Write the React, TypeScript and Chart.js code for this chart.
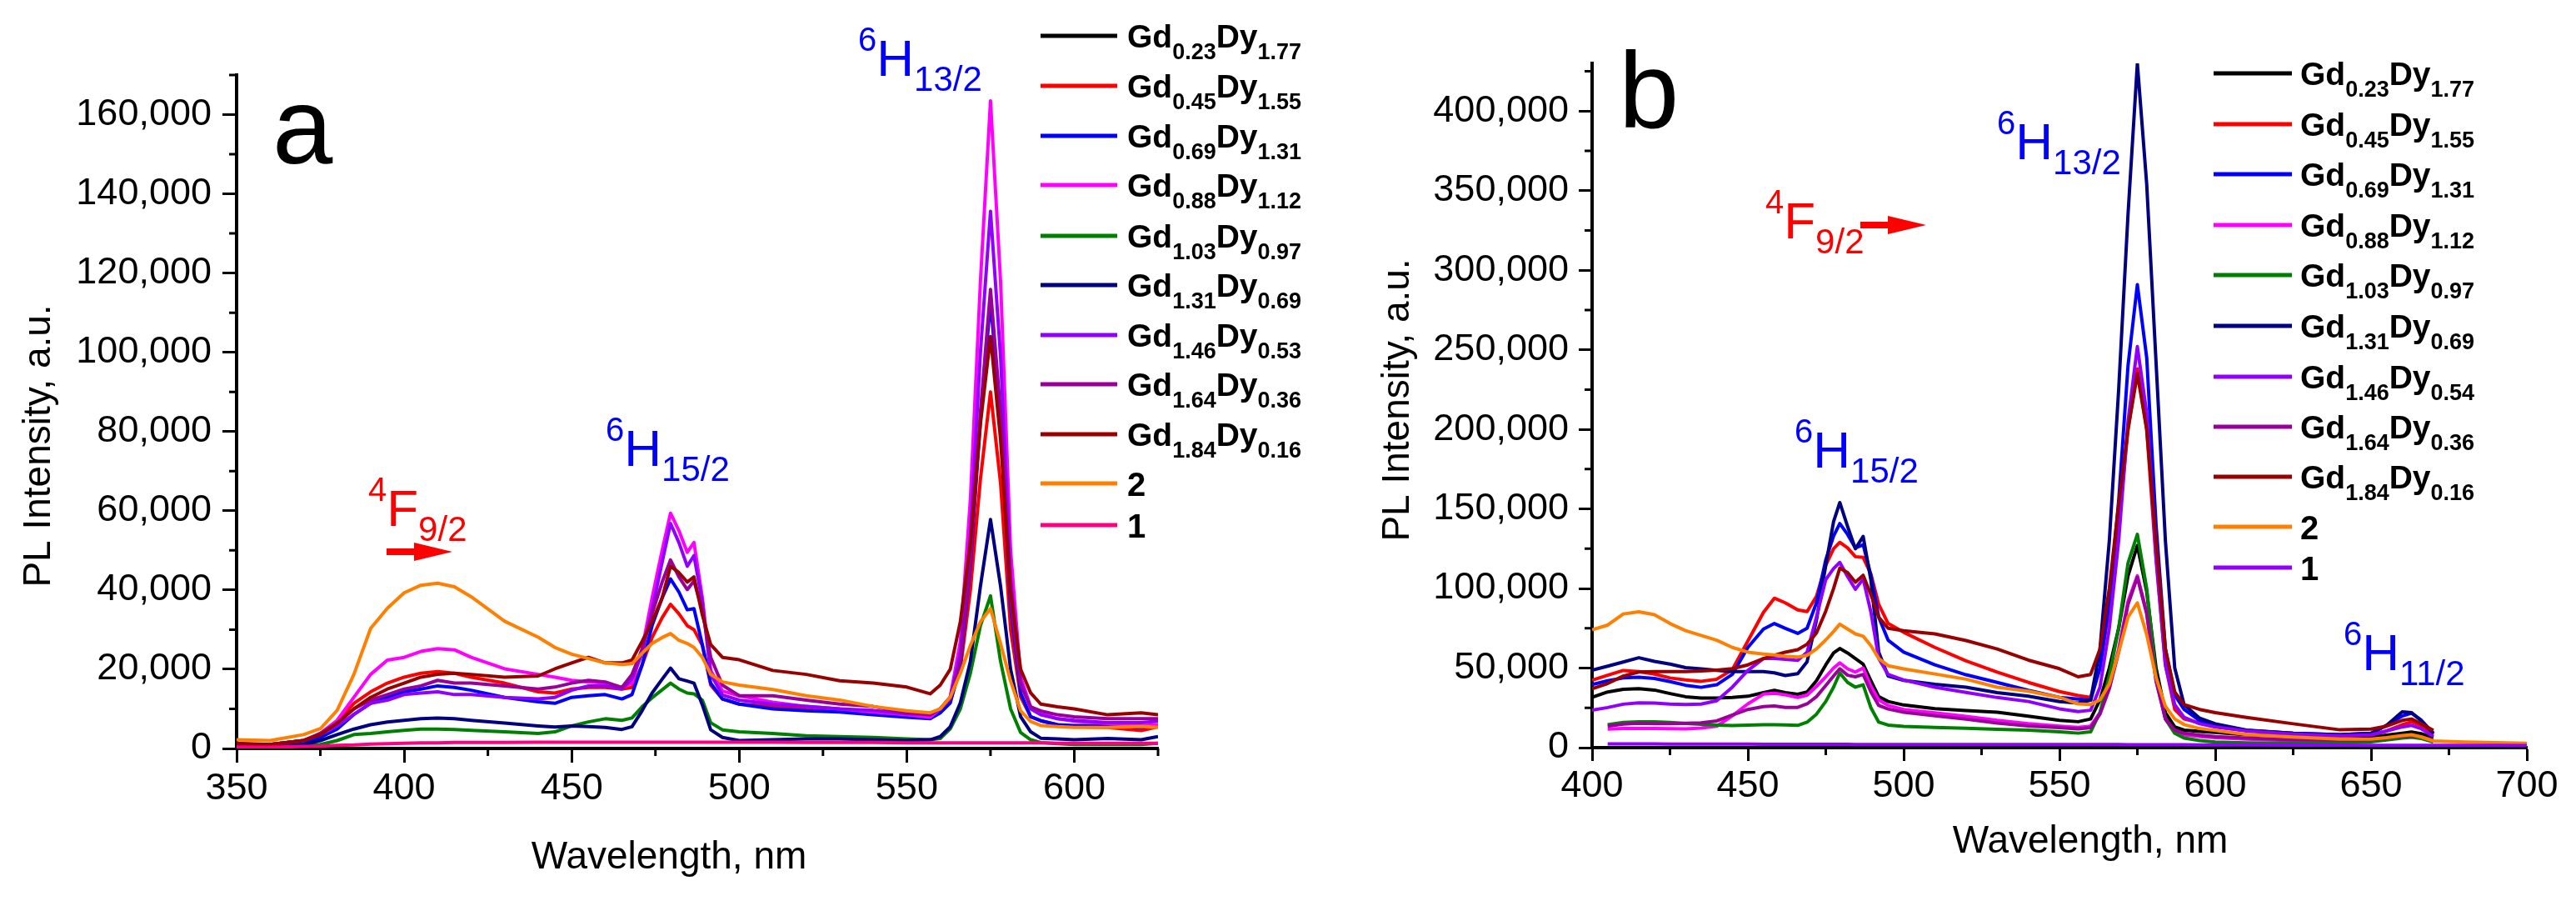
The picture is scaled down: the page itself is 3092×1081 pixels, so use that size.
import React, { useEffect, useRef } from 'react';
import { Chart, registerables } from 'chart.js';

Chart.register(...registerables);

const FONT = '"Liberation Sans", Arial, Helvetica, sans-serif';
const KILO = 1000; // values below are in thousands of a.u.

// ---------------- Panel a data ----------------
const waveA = [350, 360, 370, 375, 380, 385, 390, 395, 400, 405, 410, 415, 420,
  430, 440, 445, 450, 455, 460, 465,
  468, 471, 474, 477, 479.5, 482, 484.5, 486.5, 489, 491.5, 495,
  500, 510, 520, 530, 540, 550, 557,
  560, 563, 566, 569, 572, 575, 578, 581, 584, 587, 590,
  595, 600, 610, 620, 625];

const aGd045 = [1.0, 1.0, 2.0, 3.5, 6.7, 11.4, 14.3, 16.5, 18.0, 19.0, 19.4, 19.0, 18.0,
  16.5, 14.3, 14.0, 15.0, 15.4, 15.4, 15.0,
  15.4, 21.0, 28.0, 33.0, 36.4, 34.0, 31.0, 30.0, 26.0, 16.0, 12.5,
  11.2, 10.6, 10.0, 9.6, 9.0, 8.5, 8.0,
  9.5, 12.0, 20.0, 40.0, 68.0, 90.0, 67.0, 30.0, 13.0, 8.0, 7.0,
  6.0, 5.5, 5.3, 4.5, 5.5];
const aGd069 = [0.6, 0.8, 1.5, 2.8, 4.9, 8.6, 11.4, 12.9, 14.3, 15.0, 15.8, 15.4, 14.7,
  12.9, 11.8, 11.4, 12.9, 13.3, 13.6, 12.5,
  13.6, 21.0, 31.0, 38.0, 42.8, 39.5, 35.0, 35.3, 26.2, 16.5, 12.5,
  11.2, 10.0, 9.5, 9.2, 8.5, 7.9, 7.5,
  9.0, 11.5, 21.0, 46.0, 83.0, 113.0, 83.0, 36.0, 14.0, 8.0, 7.0,
  6.0, 5.8, 5.8, 5.3, 5.8];
const aGd088 = [1.0, 1.0, 2.0, 3.8, 7.1, 12.9, 18.7, 22.3, 23.0, 24.5, 25.2, 24.9, 23.0,
  20.1, 18.7, 18.0, 17.2, 16.8, 16.5, 15.4,
  16.5, 25.0, 38.0, 50.0, 59.4, 55.0, 49.5, 52.0, 38.0, 19.7, 14.5,
  13.3, 11.7, 10.6, 10.0, 9.2, 8.5, 7.9,
  10.0, 13.0, 27.0, 63.0, 118.0, 163.5, 118.0, 50.0, 18.0, 10.5, 9.0,
  7.5, 6.9, 6.3, 5.8, 6.0];
const aGd103 = [0.6, 0.6, 0.8, 1.0, 2.0, 3.5, 3.8, 4.2, 4.6, 4.9, 4.9, 4.8, 4.6,
  4.2, 3.8, 4.2, 5.7, 6.7, 7.5, 7.1,
  7.7, 10.5, 12.8, 14.8, 16.5, 15.0, 14.0, 13.8, 12.2, 6.5, 4.7,
  4.2, 3.8, 3.2, 3.0, 2.8, 2.4, 2.2,
  2.5, 5.0, 10.0, 19.0, 31.0, 38.5, 22.0, 10.0, 4.0, 2.2, 1.5,
  1.2, 1.0, 1.0, 1.0, 1.3];
const aGd131 = [0.6, 0.6, 1.0, 2.0, 3.5, 4.9, 6.0, 6.7, 7.1, 7.5, 7.7, 7.5, 7.1,
  6.4, 5.7, 5.4, 5.7, 5.5, 5.3, 4.8,
  5.5, 9.5, 14.0, 17.5, 20.3, 17.6, 17.0, 16.5, 11.0, 4.7, 2.8,
  2.0, 2.2, 2.4, 2.4, 2.2, 2.0, 2.2,
  3.0, 5.5, 11.5, 22.0, 41.0, 57.8, 41.0, 20.0, 8.0, 4.2, 2.6,
  2.4, 2.2, 2.5, 2.2, 3.0];
const aGd146 = [1.0, 1.0, 2.0, 3.5, 5.7, 8.6, 11.4, 12.2, 13.6, 14.0, 14.3, 13.6, 13.6,
  12.9, 12.5, 12.9, 14.7, 15.8, 15.8, 15.0,
  17.6, 24.0, 35.0, 47.0, 56.8, 52.0, 46.0, 48.7, 37.0, 18.7, 13.5,
  12.2, 11.2, 10.6, 10.0, 9.6, 8.8, 8.5,
  10.0, 13.0, 24.0, 54.0, 100.0, 135.6, 99.0, 43.0, 17.0, 10.0, 8.5,
  7.5, 7.1, 6.5, 6.5, 6.9];
const aGd164 = [1.0, 1.0, 2.0, 3.8, 6.4, 10.0, 12.2, 13.6, 15.0, 15.8, 17.2, 16.5, 16.5,
  15.8, 15.0, 15.5, 16.5, 17.2, 16.8, 15.4,
  18.7, 25.0, 34.0, 42.0, 47.6, 43.3, 40.1, 42.3, 34.8, 23.0, 16.0,
  13.3, 13.3, 12.2, 11.2, 10.6, 9.0, 8.5,
  10.0, 12.5, 22.0, 47.0, 85.0, 115.9, 85.0, 38.0, 16.0, 10.5, 9.5,
  8.5, 8.0, 7.5, 7.5, 7.5];
const aGd184 = [1.3, 1.0, 2.0, 3.5, 6.4, 10.0, 12.9, 15.0, 16.5, 18.0, 18.7, 19.0, 18.7,
  18.0, 18.3, 20.1, 21.6, 23.0, 21.6, 21.6,
  22.3, 27.0, 32.0, 38.0, 46.0, 44.4, 42.0, 43.3, 33.7, 26.2, 23.0,
  22.4, 19.7, 18.7, 17.1, 16.5, 15.5, 13.8,
  16.0, 20.0, 32.0, 52.0, 82.0, 104.0, 78.0, 40.0, 20.0, 14.0, 11.2,
  10.5, 10.0, 8.5, 9.0, 8.5];
const aSample2 = [2.2, 2.0, 3.5, 5.0, 9.6, 18.7, 30.3, 35.4, 39.3, 41.2, 41.7, 40.8, 38.3,
  32.1, 28.1, 25.5, 23.8, 22.7, 21.6, 21.2,
  21.4, 24.0, 26.5, 28.0, 29.0, 27.3, 26.5, 25.5, 23.0, 18.7, 16.8,
  16.0, 14.9, 13.3, 12.2, 10.6, 9.5, 9.0,
  10.0, 13.0, 19.0, 26.0, 32.0, 35.3, 26.5, 17.0, 9.5, 6.8, 5.8,
  5.5, 5.3, 5.3, 5.6, 5.3];
const aSample1 = [0.3, 0.3, 0.5, 0.6, 0.8, 0.9, 1.1, 1.2, 1.3, 1.4, 1.4, 1.5, 1.5,
  1.5, 1.6, 1.6, 1.6, 1.6, 1.6, 1.6,
  1.6, 1.6, 1.6, 1.6, 1.6, 1.6, 1.6, 1.6, 1.6, 1.6, 1.6,
  1.6, 1.6, 1.5, 1.5, 1.5, 1.4, 1.4,
  1.4, 1.4, 1.4, 1.4, 1.4, 1.4, 1.4, 1.4, 1.4, 1.4, 1.4,
  1.3, 1.3, 1.3, 1.3, 1.3];

// ---------------- Panel b data ----------------
const waveB = [400, 405, 410, 415, 420, 425, 430, 435, 440,
  445, 450, 455,
  458.5, 462, 466, 469, 472, 475, 477.5, 479.5, 482, 484.5, 487, 489.5, 492, 495,
  500, 510, 520, 530, 540, 550, 556, 560,
  563, 566, 569, 572, 575, 578, 581, 584, 587, 590,
  595, 600, 610, 625, 640, 650, 655, 660, 663, 666, 670,
  680, 690, 700];

const bGd023 = [31.6, 35, 36.7, 37, 36.2, 34, 32, 31.2, 31.2,
  31.6, 32.3, 34.6,
  36, 34.6, 33.5, 35, 42, 52, 59.5, 62.3, 59.5, 56, 52.5, 42, 32, 29,
  26.8, 24.5, 23.3, 22.3, 19.8, 17.1, 16.3, 18,
  30, 50, 75, 108, 127, 98, 50, 22, 13, 11,
  10.2, 9.5, 8.1, 7.2, 6.3, 6.7, 7.8, 9, 9.8, 8.8, 6.3,
  null, null, null];
const bGd045 = [42.4, 45.5, 48.5, 47.8, 46.2, 43.8, 42.5, 41.7, 43,
  49, 67, 85,
  93.9, 91, 86.5, 85.5, 95, 114.6, 125, 129, 125.5, 120, 119.5, 109, 90, 78,
  72.5, 63, 54.5, 47.5, 41, 35.2, 32.7, 31.6,
  50, 88, 140, 200, 238, 200, 118, 52, 24, 18,
  15.5, 13.5, 10.9, 8.9, 7.1, 8.1, 10.5, 14.4, 16.2, 14, 8.1,
  null, null, null];
const bGd069 = [39.7, 42, 43.8, 44.2, 43.5, 41.5, 39.2, 37.9, 39.5,
  46, 63, 74.5,
  78, 75, 71.8, 75, 91, 118, 133, 140.8, 134, 125.5, 127.5, 108, 82, 67.5,
  60, 52, 45.8, 41, 36, 31.6, 30.5, 29.8,
  50, 92, 155, 240, 291, 245, 140, 62, 33, 24,
  17, 14.4, 10.8, 9, 8.1, 9, 14, 19.9, 21.7, 17.5, 9,
  null, null, null];
const bGd088 = [null, 11.7, 12, 12.1, 12.1, 11.9, 11.8, 12.3, 13.5,
  20, 27.5, 33.6,
  34.2, 33.2, 31.5, 33, 38.5, 44.5, 50, 53.3, 49.5, 47.5, 50, 38.5, 30, 26.5,
  24, 21.9, 19.7, 17.1, 15, 13.5, 12.7, 13.5,
  22, 38, 62, 92, 108, 85, 42, 18, 10, 8,
  7, 6.3, 5.4, 4.5, 4.3, 4.5, 5.5, 6.5, 7, 6.2, 4,
  null, null, null];
const bGd103 = [null, 14.4, 15.8, 16.2, 16.2, 15.8, 15.2, 14.6, 14.2,
  13.9, 14.2, 14.4,
  14.4, 14.3, 14, 16, 21, 29, 38, 46.9, 41, 38, 39.5, 25, 16, 14.2,
  13.4, 12.7, 12.2, 11.5, 11, 9.9, 9.1, 9.9,
  22, 45, 75, 116, 134, 100, 45, 18, 9, 6,
  4.5, 3.5, 3, 2.7, 3.2, 3.6, 4.8, 6, 6.5, 5.8, 3.5,
  null, null, null];
const bGd131 = [48.7, 51.2, 53.8, 56.5, 54.2, 52.5, 50.3, 49.5, 48.6,
  47.8, 47.8, 47.8,
  47, 45.3, 46.5, 54, 80, 114.6, 142, 154, 139, 125, 132.7, 105, 60, 45,
  42.3, 39.8, 38, 34.6, 32.3, 28.9, 28, 29.8,
  62, 130, 225, 335, 430, 354, 242, 130, 50, 27,
  18.5, 15, 11, 9, 8.1, 9, 14, 22.5, 22, 17, 9,
  null, null, null];
const bGd146 = [23.5, 25.2, 27.3, 28.2, 28, 27.4, 27.1, 27.4, 29.5,
  38, 48.5, 56,
  56, 55.5, 54.8, 60, 82, 105.6, 112.5, 116.4, 107.5, 99.5, 106, 85, 56, 46,
  42.5, 38, 34.7, 31.5, 29, 24.4, 22.7, 23.5,
  38, 75, 130, 205, 252, 210, 120, 52, 27, 19,
  15, 13, 10.5, 8.5, 7.5, 8, 10.5, 13, 14, 12, 7,
  null, null, null];
const bGd164 = [null, 13.5, 14.8, 15.3, 15, 15.1, 15.3, 15.6, 16.8,
  20.5, 24, 25.8,
  26.2, 25.3, 25.3, 27.5, 32, 39, 45, 49.6, 45.5, 44.5, 46, 35, 26.5, 24.3,
  22.3, 20, 17.9, 15.4, 13.6, 12.6, 11.8, 12.6,
  21, 37, 60, 90, 107, 84, 42, 18, 11, 9,
  7.8, 7, 6, 5, 4.8, 5, 6, 7, 7.5, 6.8, 4.5,
  null, null, null];
const bGd184 = [37, 40.3, 45, 47.5, 47.8, 47.8, 47.8, 48.2, 48.7,
  49.6, 52, 56,
  58, 60, 61.5, 65, 72, 85.8, 100, 112.8, 110, 104, 108.3, 96, 82, 75,
  73.5, 71.5, 67.3, 62, 55, 49.6, 44.5, 46,
  62, 100, 153, 200, 235, 200, 130, 62, 35, 27,
  24, 22, 19, 15, 11.2, 11.7, 13.5, 17.1, 18, 15, 10.8,
  null, null, null];
const bSample2 = [74, 77, 84, 85.4, 83.5, 78, 73.5, 70.5, 67.5,
  63, 60, 58.8,
  58.3, 57.4, 56.9, 58, 62, 67.7, 73, 77.6, 74.5, 71.5, 70, 64, 56, 51.5,
  49.5, 46.3, 43, 38, 35.5, 31.6, 27.5, 27.1,
  30, 40, 60, 82, 91, 71, 44, 26, 18, 14.5,
  12, 10.8, 8.3, 6.7, 5.4, 5.4, 6.3, 7.6, 8.1, 6.8, 4.2,
  3.6, 3.2, 2.7];
const bSample1 = [null, 2.3, 2.3, 2.3, 2.3, 2.2, 2.2, 2.2, 2.2,
  2.2, 2.2, 2.1,
  2.1, 2.1, 2.1, 2.1, 2.1, 2.1, 2.1, 2.1, 2.1, 2.0, 2.0, 2.0, 2.0, 2.0,
  2.0, 2.0, 2.0, 1.9, 1.9, 1.9, 1.9, 1.9,
  1.9, 1.9, 1.9, 1.8, 1.8, 1.8, 1.8, 1.8, 1.8, 1.8,
  1.7, 1.7, 1.7, 1.6, 1.6, 1.5, 1.5, 1.5, 1.5, 1.5, 1.5,
  1.4, 1.4, 1.3];

// ---------------- Legend labels & colors ----------------
const gdSub = ['0.23', '0.45', '0.69', '0.88', '1.03', '1.31', '1.46', '1.64', '1.84'];
const dySubA = ['1.77', '1.55', '1.31', '1.12', '0.97', '0.69', '0.53', '0.36', '0.16'];
const dySubB = ['1.77', '1.55', '1.31', '1.12', '0.97', '0.69', '0.54', '0.36', '0.16'];
const sampleLabels = ['2', '1'];
const seriesColors = ['#000000', '#FF0000', '#0000FF', '#FF00FF', '#008000', '#000080',
  '#9100FF', '#990099', '#990000', '#FF8000'];
const sample1ColorA = '#FF0080';
const sample1ColorB = '#9100FF';

const valuesA: (number | null)[][] = [[], aGd045, aGd069, aGd088, aGd103, aGd131, aGd146, aGd164, aGd184, aSample2, aSample1];
const valuesB: (number | null)[][] = [bGd023, bGd045, bGd069, bGd088, bGd103, bGd131, bGd146, bGd164, bGd184, bSample2, bSample1];

// axis ticks
const yMajorA = [0, 20000, 40000, 60000, 80000, 100000, 120000, 140000, 160000];
const yMinorA = [10000, 30000, 50000, 70000, 90000, 110000, 130000, 150000, 170000];
const xMajorA = [350, 400, 450, 500, 550, 600];
const xMinorA = [375, 425, 475, 525, 575, 625];
const yMajorB = [0, 50000, 100000, 150000, 200000, 250000, 300000, 350000, 400000];
const yMinorB = [25000, 75000, 125000, 175000, 225000, 275000, 325000, 375000, 425000];
const xMajorB = [400, 450, 500, 550, 600, 650, 700];
const xMinorB = [425, 475, 525, 575, 625, 675];

type Term = { x: number; y: number; sup: string; main: string; sub: string; color: string };
type Arrow = { x1: number; x2: number; hx: number; y: number; half: number; w: number };
type LegendItem = { gd?: string; dy?: string; plain?: string; color: string };

type Panel = {
  offset: number;
  letter: string; letterX: number; letterY: number;
  yTitleX: number; yTitleY: number; xTitleX: number; xTitleY: number;
  lgX1: number; lgX2: number; lgTX: number; rows: number[];
  legend: LegendItem[];
  terms: Term[]; arrows: Arrow[];
  xMinor: number[]; yMinor: number[]; minorLen: number;
};

const BLUE = '#0000FF';
const RED = '#FF0000';

function legendItems(dy: string[], c1: string): LegendItem[] {
  const items: LegendItem[] = gdSub.map((g, i) => ({ gd: g, dy: dy[i], color: seriesColors[i] }));
  items.push({ plain: sampleLabels[0], color: seriesColors[9] });
  items.push({ plain: sampleLabels[1], color: c1 });
  return items;
}

const panelA: Panel = {
  offset: 0,
  letter: 'a', letterX: 327, letterY: 196,
  yTitleX: 47, yTitleY: 535, xTitleX: 803, xTitleY: 1042,
  lgX1: 1249, lgX2: 1341, lgTX: 1353,
  rows: [43, 103, 163, 222, 283, 342, 402, 461, 521, 580, 630],
  legend: legendItems(dySubA, sample1ColorA),
  terms: [
    { x: 1030, y: 91, sup: '6', main: 'H', sub: '13/2', color: BLUE },
    { x: 727, y: 559, sup: '6', main: 'H', sub: '15/2', color: BLUE },
    { x: 442, y: 631, sup: '4', main: 'F', sub: '9/2', color: RED },
  ],
  arrows: [{ x1: 464, x2: 543, hx: 497, y: 662, half: 11, w: 8 }],
  xMinor: xMinorA, yMinor: yMinorA, minorLen: 9,
};

const panelB: Panel = {
  offset: 1546,
  letter: 'b', letterX: 1943, letterY: 153,
  yTitleX: 1678, yTitleY: 480, xTitleX: 2509, xTitleY: 1023,
  lgX1: 2657, lgX2: 2751, lgTX: 2761,
  rows: [88, 149, 209, 270, 330, 391, 452, 512, 572, 632, 681],
  legend: legendItems(dySubB, sample1ColorB),
  terms: [
    { x: 2397, y: 191, sup: '6', main: 'H', sub: '13/2', color: BLUE },
    { x: 2154, y: 561, sup: '6', main: 'H', sub: '15/2', color: BLUE },
    { x: 2813, y: 804, sup: '6', main: 'H', sub: '11/2', color: BLUE },
    { x: 2119, y: 286, sup: '4', main: 'F', sub: '9/2', color: RED },
  ],
  arrows: [{ x1: 2233, x2: 2312, hx: 2266, y: 270, half: 11, w: 8 }],
  xMinor: xMinorB, yMinor: yMinorB, minorLen: 9,
};

function decorPlugin(p: Panel) {
  return {
    id: 'decor',
    afterDraw(chart: any) {
      const ctx: CanvasRenderingContext2D = chart.ctx;
      const o = p.offset;
      const area = chart.chartArea;
      const xs = chart.scales.x;
      const ys = chart.scales.y;
      ctx.save();
      // minor ticks
      ctx.strokeStyle = '#000';
      ctx.lineWidth = 3;
      ctx.beginPath();
      for (const v of p.xMinor) {
        const px = xs.getPixelForValue(v);
        ctx.moveTo(px, area.bottom);
        ctx.lineTo(px, area.bottom + p.minorLen);
      }
      for (const v of p.yMinor) {
        const py = ys.getPixelForValue(v);
        ctx.moveTo(area.left, py);
        ctx.lineTo(area.left - p.minorLen, py);
      }
      ctx.stroke();

      // panel letter
      ctx.fillStyle = '#000';
      ctx.textAlign = 'left';
      ctx.textBaseline = 'alphabetic';
      ctx.font = `130px ${FONT}`;
      ctx.fillText(p.letter, p.letterX - o, p.letterY);

      // axis titles
      ctx.font = `46px ${FONT}`;
      ctx.textAlign = 'center';
      ctx.fillText('Wavelength, nm', p.xTitleX - o, p.xTitleY);
      ctx.save();
      ctx.translate(p.yTitleX - o, p.yTitleY);
      ctx.rotate(-Math.PI / 2);
      ctx.textBaseline = 'middle';
      ctx.fillText('PL Intensity, a.u.', 0, 0);
      ctx.restore();

      // term annotations
      ctx.textAlign = 'left';
      ctx.textBaseline = 'alphabetic';
      for (const t of p.terms) {
        ctx.fillStyle = t.color;
        let x = t.x - o;
        ctx.font = `40px ${FONT}`;
        ctx.fillText(t.sup, x, t.y - 30);
        x += ctx.measureText(t.sup).width;
        ctx.font = `62px ${FONT}`;
        ctx.fillText(t.main, x, t.y);
        x += ctx.measureText(t.main).width;
        ctx.font = `42px ${FONT}`;
        ctx.fillText(t.sub, x, t.y + 18);
      }
      // arrows
      ctx.fillStyle = RED;
      for (const a of p.arrows) {
        ctx.fillRect(a.x1 - o, a.y - a.w / 2, a.hx - a.x1 + 2, a.w);
        ctx.beginPath();
        ctx.moveTo(a.hx - o, a.y - a.half);
        ctx.lineTo(a.x2 - o, a.y);
        ctx.lineTo(a.hx - o, a.y + a.half);
        ctx.closePath();
        ctx.fill();
      }

      // legend
      p.legend.forEach((it, i) => {
        const y = p.rows[i];
        ctx.strokeStyle = it.color;
        ctx.lineWidth = 5;
        ctx.beginPath();
        ctx.moveTo(p.lgX1 - o, y);
        ctx.lineTo(p.lgX2 - o, y);
        ctx.stroke();
        ctx.fillStyle = '#000';
        let x = p.lgTX - o;
        if (it.plain) {
          ctx.font = `bold 40px ${FONT}`;
          ctx.fillText(it.plain, x, y + 15);
        } else {
          ctx.font = `bold 39px ${FONT}`;
          ctx.fillText('Gd', x, y + 14);
          x += ctx.measureText('Gd').width;
          ctx.font = `bold 27px ${FONT}`;
          ctx.fillText(it.gd || '', x, y + 28);
          x += ctx.measureText(it.gd || '').width;
          ctx.font = `bold 39px ${FONT}`;
          ctx.fillText('Dy', x, y + 14);
          x += ctx.measureText('Dy').width;
          ctx.font = `bold 27px ${FONT}`;
          ctx.fillText(it.dy || '', x, y + 28);
        }
      });
      ctx.restore();
    },
  };
}

function buildDatasets(wave: number[], values: (number | null)[][], legend: LegendItem[]) {
  const n = values.length;
  return values.map((vals, i) => ({
    label: legend[i].plain ? legend[i].plain : `Gd${legend[i].gd}Dy${legend[i].dy}`,
    data: vals.map((v, j) => ({ x: wave[j], y: v === null ? null : v * KILO })),
    borderColor: legend[i].color,
    backgroundColor: legend[i].color,
    borderWidth: 4,
    pointRadius: 0,
    tension: 0,
    fill: false,
    spanGaps: false,
    order: n - i,
    borderJoinStyle: 'round' as const,
  }));
}

type AxisCfg = {
  xMin: number; xMax: number; xMajor: number[];
  yMax: number; yMajor: number[];
  pad: { left: number; right: number; top: number; bottom: number };
  tickLen: number; xPad: number; yPad: number;
};

function makeConfig(p: Panel, wave: number[], values: (number | null)[][], ax: AxisCfg): any {
  const tickFont = { family: FONT, size: 45 };
  return {
    type: 'line',
    data: { datasets: buildDatasets(wave, values, p.legend) },
    options: {
      animation: false,
      responsive: false,
      maintainAspectRatio: false,
      devicePixelRatio: 1,
      layout: { padding: ax.pad },
      plugins: { legend: { display: false }, tooltip: { enabled: false }, title: { display: false } },
      scales: {
        x: {
          type: 'linear',
          min: ax.xMin, max: ax.xMax,
          afterFit: (s: any) => { s.height = 120; },
          afterBuildTicks: (s: any) => { s.ticks = ax.xMajor.map((v) => ({ value: v })); },
          border: { display: true, color: '#000', width: 4 },
          grid: { display: true, drawOnChartArea: false, drawTicks: true, tickLength: ax.tickLen, tickWidth: 3, tickColor: '#000' },
          ticks: { color: '#000', font: tickFont, padding: ax.xPad, maxRotation: 0, minRotation: 0, autoSkip: false,
            callback: (v: number) => String(v) },
        },
        y: {
          type: 'linear',
          min: 0, max: ax.yMax,
          afterFit: (s: any) => { s.width = 250; },
          afterBuildTicks: (s: any) => { s.ticks = ax.yMajor.map((v) => ({ value: v })); },
          border: { display: true, color: '#000', width: 4 },
          grid: { display: true, drawOnChartArea: false, drawTicks: true, tickLength: ax.tickLen, tickWidth: 3, tickColor: '#000' },
          ticks: { color: '#000', font: tickFont, padding: ax.yPad, autoSkip: false,
            callback: (v: number) => Number(v).toLocaleString('en-US') },
        },
      },
    },
    plugins: [decorPlugin(p)],
  };
}

const WA = 1620;
const WB = 1546;
const OFFB = 1546;
const H = 1081;

export default function App() {
  const refA = useRef<HTMLCanvasElement>(null);
  const refB = useRef<HTMLCanvasElement>(null);

  useEffect(() => {
    const ca = new Chart(refA.current as HTMLCanvasElement, makeConfig(panelA, waveA, valuesA, {
      xMin: 350, xMax: 625, xMajor: xMajorA, yMax: 170000, yMajor: yMajorA,
      pad: { left: 284 - 250, right: WA - 1390, top: 90, bottom: 1081 - 898 - 120 },
      tickLen: 17, xPad: 5, yPad: 13,
    }));
    const cb = new Chart(refB.current as HTMLCanvasElement, makeConfig(panelB, waveB, valuesB, {
      xMin: 400, xMax: 700, xMajor: xMajorB, yMax: 430000, yMajor: yMajorB,
      pad: { left: 1911 - OFFB - 250, right: 3092 - 3033, top: 76, bottom: 1081 - 897 - 120 },
      tickLen: 16, xPad: 4, yPad: 12,
    }));
    return () => { ca.destroy(); cb.destroy(); };
  }, []);

  return (
    <div style={{ position: 'absolute', left: 0, top: 0, width: 3092, height: 1081, background: '#fff', overflow: 'hidden' }}>
      <canvas ref={refA} width={WA} height={H} style={{ position: 'absolute', left: 0, top: 0, width: WA, height: H }} />
      <canvas ref={refB} width={WB} height={H} style={{ position: 'absolute', left: OFFB, top: 0, width: WB, height: H }} />
    </div>
  );
}
